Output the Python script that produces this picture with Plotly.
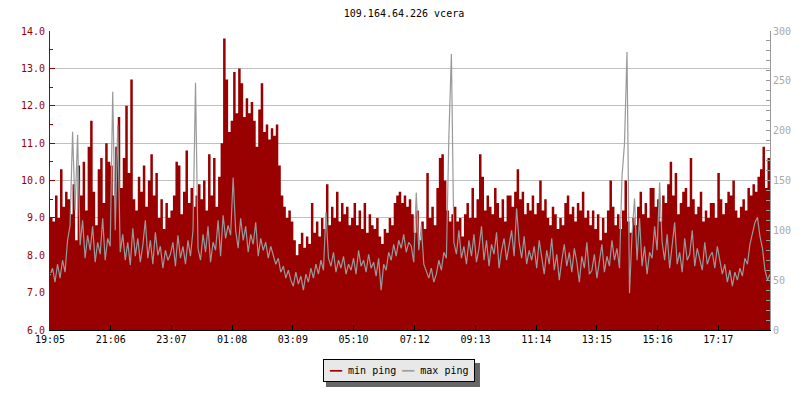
"""
ping graph: min ping (area, left axis) and max ping (line, right axis)
"""

import pandas as pd
import plotly.graph_objects as go

TITLE = "109.164.64.226 vcera"
START = "2000-01-01 19:05"
STEP = "5min"
TICK_LABELS = ["19:05", "21:06", "23:07", "01:08", "03:09", "05:10",
               "07:12", "09:13", "11:14", "13:15", "15:16", "17:17"]
SERIES = ["min ping", "max ping"]

# min ping [ms] - one row per ~2 hours
min_ping = [
    9.0, 8.9, 9.6, 9.0, 10.3, 9.3, 9.7, 9.5, 9.1, 9.9, 8.4, 10.4, 9.6, 10.5, 9.2, 10.9, 11.6, 9.7, 8.8, 10.3, 10.6, 9.4, 11.0, 10.5,
    10.4, 9.6, 10.9, 11.7, 9.8, 10.6, 12.0, 10.2, 12.7, 9.5, 9.2, 10.1, 9.7, 10.4, 9.3, 10.0, 10.7, 9.6, 10.2, 9.0, 9.5, 8.7, 9.4, 9.0,
    9.2, 9.6, 10.5, 10.4, 9.1, 9.7, 10.8, 9.4, 9.8, 9.3, 9.6, 9.9, 9.5, 10.0, 9.2, 10.7, 9.6, 10.6, 9.3, 10.1, 11.0, 13.8, 12.7, 11.3,
    11.6, 12.9, 11.8, 13.0, 12.6, 11.7, 12.2, 11.8, 12.1, 11.6, 10.9, 11.9, 12.6, 11.3, 11.5, 11.1, 11.4, 11.2, 11.5, 10.4, 9.6, 9.3, 9.0, 9.2,
    8.9, 8.4, 8.0, 8.3, 8.6, 8.2, 8.5, 8.3, 9.4, 8.6, 8.9, 8.5, 9.0, 8.7, 9.9, 8.8, 9.3, 9.0, 9.7, 8.9, 9.4, 9.1, 9.3, 8.8,
    9.0, 9.4, 8.8, 9.2, 8.7, 9.4, 8.6, 9.1, 8.8, 8.7, 9.0, 8.5, 8.3, 8.7, 8.6, 9.0, 8.8, 9.4, 9.6, 9.7, 9.4, 9.6, 9.3, 9.5,
    9.1, 8.6, 9.2, 8.4, 8.9, 8.7, 10.2, 9.0, 9.3, 8.8, 9.8, 10.6, 10.7, 10.0, 9.2, 8.9, 9.1, 9.3, 8.9, 9.0, 8.5, 9.1, 9.4, 9.0,
    9.8, 9.0, 9.5, 10.7, 10.1, 9.2, 9.6, 9.3, 9.1, 9.8, 9.4, 9.0, 9.5, 8.9, 9.6, 9.6, 9.3, 9.7, 10.3, 9.5, 9.7, 9.1, 9.4, 9.2,
    9.6, 9.1, 9.4, 10.0, 9.2, 9.5, 9.0, 8.8, 9.3, 9.1, 8.7, 9.0, 8.8, 9.4, 9.6, 9.1, 9.3, 8.9, 9.4, 9.2, 9.7, 9.0, 9.2, 8.8,
    9.2, 8.7, 9.1, 8.4, 9.0, 8.6, 9.2, 10.0, 9.3, 8.8, 9.1, 8.7, 9.2, 10.0, 8.9, 8.6, 9.0, 8.8, 9.3, 9.7, 9.1, 9.4, 9.0, 9.8,
    9.8, 9.3, 9.5, 8.9, 9.6, 9.4, 9.9, 10.5, 9.6, 10.2, 9.1, 9.4, 9.7, 9.8, 9.3, 10.6, 9.5, 9.1, 9.3, 9.7, 8.9, 9.2, 9.0, 9.4,
    9.4, 9.0, 10.2, 9.5, 9.1, 9.4, 9.7, 9.6, 10.0, 9.2, 9.0, 9.3, 9.5, 9.2, 9.8, 9.6, 9.9, 9.7, 10.1, 10.3, 10.9, 9.8, 10.6, 9.4,
]

# max ping [ms]
max_ping = [
    55, 62, 48, 66, 52, 70, 58, 90, 105, 199, 120, 196, 85, 110, 72, 95, 80, 104, 68, 88, 76, 112, 70, 92,
    84, 239, 100, 206, 78, 96, 70, 88, 65, 102, 74, 92, 68, 85, 110, 72, 90, 66, 98, 75, 84, 62, 80, 70,
    76, 88, 64, 95, 72, 84, 66, 90, 74, 100, 248, 82, 70, 96, 78, 104, 68, 88, 80, 110, 74, 115, 92, 105,
    95, 153, 100, 82, 112, 90, 104, 78, 96, 86, 108, 74, 92, 80, 88, 72, 84, 76, 66, 72, 58, 64, 52, 60,
    50, 44, 58, 46, 54, 40, 56, 48, 62, 52, 66, 56, 70, 60, 118, 72, 64, 78, 58, 70, 62, 74, 56, 66,
    60, 72, 56, 80, 64, 70, 58, 76, 62, 68, 54, 72, 40, 66, 60, 78, 70, 86, 74, 90, 82, 96, 78, 88,
    84, 68, 138, 80, 105, 66, 58, 52, 62, 48, 56, 70, 60, 78, 72, 195, 277, 88, 76, 100, 72, 84, 66, 90,
    74, 96, 68, 82, 104, 70, 90, 64, 86, 76, 98, 62, 80, 92, 70, 84, 100, 74, 122, 88, 72, 94, 66, 80,
    70, 84, 62, 90, 74, 56, 80, 66, 92, 60, 76, 50, 70, 86, 64, 78, 58, 82, 68, 48, 74, 62, 88, 56,
    60, 76, 52, 70, 86, 58, 74, 64, 90, 70, 82, 62, 154, 187, 279, 37, 96, 132, 70, 112, 64, 84, 56, 78,
    72, 104, 80, 148, 88, 70, 96, 62, 84, 108, 66, 78, 58, 92, 70, 76, 100, 64, 82, 72, 60, 88, 66, 74,
    78, 62, 84, 70, 56, 66, 48, 60, 44, 58, 50, 62, 54, 72, 66, 86, 96, 108, 113, 94, 82, 60, 50, 56,
]

RED = "#990000"
GRAY = "#999999"
FONT = "DejaVu Sans Mono"

times = pd.date_range(START, periods=len(min_ping), freq=STEP)

# tick positions from labels (after midnight -> next day)
t0 = pd.Timestamp(START)
tickvals = []
for lab in TICK_LABELS:
    t = pd.Timestamp(f"2000-01-01 {lab}")
    if t < t0:
        t += pd.Timedelta(days=1)
    tickvals.append(t)

fig = go.Figure()

fig.add_trace(go.Scatter(
    x=times, y=min_ping, name=SERIES[0], mode="lines",
    line=dict(color=RED, width=0, shape="hv"),
    fill="tozeroy", fillcolor=RED, showlegend=False,
))
fig.add_trace(go.Scatter(
    x=times, y=max_ping, name=SERIES[1], mode="lines", yaxis="y2",
    line=dict(color=GRAY, width=1.2),
    showlegend=False,
))

# legend box like rrdtool (with drop shadow)
legend_text = (f"<span style='color:{RED}'>━━</span> {SERIES[0]} "
               f"<span style='color:#a0a0a0'>━━</span> {SERIES[1]}")
fig.add_shape(type="rect", xref="paper", yref="paper",
              x0=0.3833, x1=0.5972, y0=-0.1906, y1=-0.1104,
              fillcolor="#666666", line=dict(width=0), layer="above")
fig.add_annotation(
    text=legend_text, xref="paper", yref="paper", x=0.4847, y=-0.137,
    xanchor="center", yanchor="middle", showarrow=False,
    bgcolor="#e8e8e8", bordercolor="black", borderwidth=1, borderpad=5,
    font=dict(family=FONT, size=10, color="black"),
)

# page body has an 8px margin -> figure is 792x392 so the plot lands at 50..770 / 31..330
fig.update_layout(
    width=792, height=392,
    margin=dict(l=42, r=30, t=23, b=70, autoexpand=False),
    paper_bgcolor="white", plot_bgcolor="white",
    font=dict(family=FONT, size=10, color="black"),
    title=dict(text=TITLE, x=0.5, xanchor="center", y=0.985, yanchor="middle",
               font=dict(family=FONT, size=10, color="black")),
    xaxis=dict(
        range=[times[0], times[-1]],
        tickvals=tickvals, ticktext=TICK_LABELS,
        ticks="inside", ticklen=5, tickcolor="black",
        showline=True, linecolor="black", linewidth=1,
        showgrid=False, zeroline=False,
        tickfont=dict(family=FONT, size=10, color="black"),
    ),
    yaxis=dict(
        range=[6, 14], dtick=1, tickformat=".1f",
        ticks="inside", ticklen=5, tickcolor=RED, ticklabelstandoff=2,
        minor=dict(dtick=0.5, ticks="inside", ticklen=3, tickcolor=RED, showgrid=False),
        showline=True, linecolor=RED, linewidth=1,
        showgrid=True, gridcolor="#c0c0c0", gridwidth=1, zeroline=False,
        tickfont=dict(family=FONT, size=10, color=RED),
    ),
    yaxis2=dict(
        range=[0, 300], dtick=50, overlaying="y", side="right",
        ticks="inside", ticklen=4, tickcolor=GRAY,
        minor=dict(dtick=10, ticks="inside", ticklen=4, tickcolor=GRAY, showgrid=False),
        showline=True, linecolor=GRAY, linewidth=1,
        showgrid=False, zeroline=False,
        tickfont=dict(family=FONT, size=10, color="#aaaaaa"),
    ),
    showlegend=False,
)

fig.write_html("out.html")
